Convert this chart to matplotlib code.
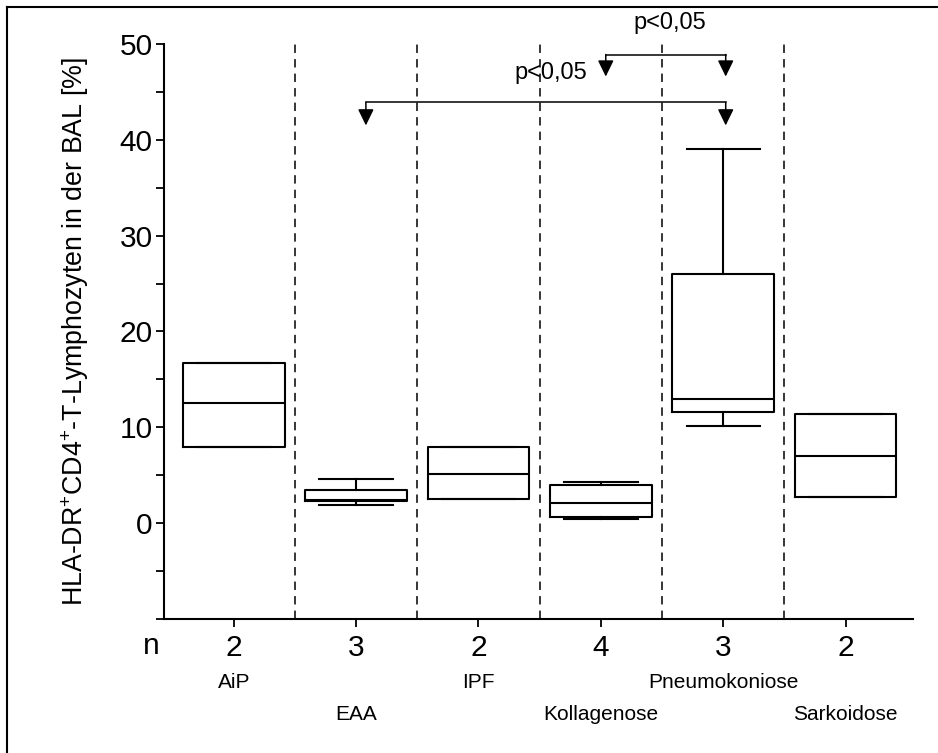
"""
Box plot of HLA-DR+CD4+ T lymphocytes in BAL per diagnosis group.
"""

import matplotlib
matplotlib.use("Agg")
import matplotlib.pyplot as plt
from matplotlib.lines import Line2D

plt.rcParams['font.family'] = ['Liberation Sans', 'DejaVu Sans']
plt.rcParams['mathtext.fontset'] = 'custom'
plt.rcParams['mathtext.rm'] = 'Liberation Sans'
plt.rcParams['mathtext.it'] = 'Liberation Sans:italic'
plt.rcParams['mathtext.bf'] = 'Liberation Sans:bold'

# data
groups = ['AiP', 'EAA', 'IPF', 'Kollagenose', 'Pneumokoniose', 'Sarkoidose']
n_values = ['2', '3', '2', '4', '3', '2']
q1 = [7.9, 2.3, 2.5, 0.6, 11.6, 2.7]
median = [12.5, 2.45, 5.1, 2.1, 13.0, 7.0]
q3 = [16.7, 3.5, 7.9, 4.0, 26.0, 11.4]
whisker_low = [7.9, 1.9, 2.5, 0.4, 10.1, 2.7]
whisker_high = [16.7, 4.6, 7.9, 4.3, 39.0, 11.4]

# significance brackets: (left arrow x, right arrow x, bracket y, arrow tip y)
comparisons = [(2.08, 5.02, 43.9, 41.5), (4.04, 5.02, 48.9, 46.6)]
p_labels = ['p<0,05', 'p<0,05']
p_label_pos = [(3.59, 47.0), (4.56, 52.2)]

y_label = r'HLA-DR$^{+}$CD4$^{+}$-T-Lymphozyten in der BAL [%]'


def main():
    fig = plt.figure(figsize=(9.38, 7.53), dpi=100)
    ax = fig.add_axes([0.1748, 0.178, 0.7985, 0.7636])

    positions = list(range(1, len(groups) + 1))
    stats = []
    for i in range(len(groups)):
        stats.append({'q1': q1[i], 'med': median[i], 'q3': q3[i],
                      'whislo': whisker_low[i], 'whishi': whisker_high[i],
                      'fliers': []})

    lw = 1.5
    ax.bxp(stats, positions=positions, widths=0.83, showfliers=False,
           boxprops=dict(color='black', linewidth=lw),
           medianprops=dict(color='black', linewidth=lw),
           whiskerprops=dict(color='black', linewidth=lw),
           capprops=dict(color='black', linewidth=lw),
           capwidths=0.6)

    # dashed separators between groups
    for x in positions[:-1]:
        ax.plot([x + 0.5, x + 0.5], [-10, 50], color='black', linewidth=1.1,
                dashes=(5.5, 4.0), zorder=1)

    # significance brackets
    for (xa, xb, yl, yt) in comparisons:
        ax.plot([xa, xb], [yl, yl], color='black', linewidth=1.1)
        for x in (xa, xb):
            ax.annotate('', xy=(x, yt), xytext=(x, yl),
                        arrowprops=dict(arrowstyle='-|>,head_length=0.45,head_width=0.22',
                                        color='black', linewidth=1.1,
                                        mutation_scale=22, shrinkA=0, shrinkB=0))
    for text, (x, y) in zip(p_labels, p_label_pos):
        ax.text(x, y, text, fontsize=17, ha='center', va='center', clip_on=False)

    ax.set_xlim(0.43, 6.55)
    ax.set_ylim(-10, 50)

    ax.set_yticks([0, 10, 20, 30, 40, 50])
    ax.set_yticks([-10, -5, 5, 15, 25, 35, 45], minor=True)
    ax.tick_params(axis='y', which='major', labelsize=21.5, length=6, width=1.3,
                   direction='out', pad=2)
    ax.tick_params(axis='y', which='minor', length=6, width=1.3, direction='out')

    ax.set_xticks(positions, labels=n_values)
    ax.tick_params(axis='x', labelsize=21.5, length=6, width=1.3,
                   direction='out', pad=5)

    for side in ('top', 'right'):
        ax.spines[side].set_visible(False)
    for side in ('left', 'bottom'):
        ax.spines[side].set_linewidth(1.5)

    ax.set_ylabel(y_label, fontsize=19.3)
    ax.yaxis.set_label_coords(-0.097, 0.5)

    # "n" row label and group names
    tr = ax.get_xaxis_transform()
    ax.text(0.33, -0.047, 'n', fontsize=21.5, ha='center', va='center',
            transform=tr, clip_on=False)
    for i, name in enumerate(groups):
        y = -0.110 if i % 2 == 0 else -0.167
        ax.text(positions[i], y, name, fontsize=15, ha='center', va='center',
                transform=tr, clip_on=False)

    # outer frame (top and left edges visible)
    fig.add_artist(Line2D([7 / 938, 1], [1 - 7 / 753, 1 - 7 / 753],
                          color='black', linewidth=1.5, transform=fig.transFigure))
    fig.add_artist(Line2D([7 / 938, 7 / 938], [0, 1 - 7 / 753],
                          color='black', linewidth=1.5, transform=fig.transFigure))

    fig.savefig('out.png', dpi=100)
    plt.close(fig)


if __name__ == "__main__":
    main()
